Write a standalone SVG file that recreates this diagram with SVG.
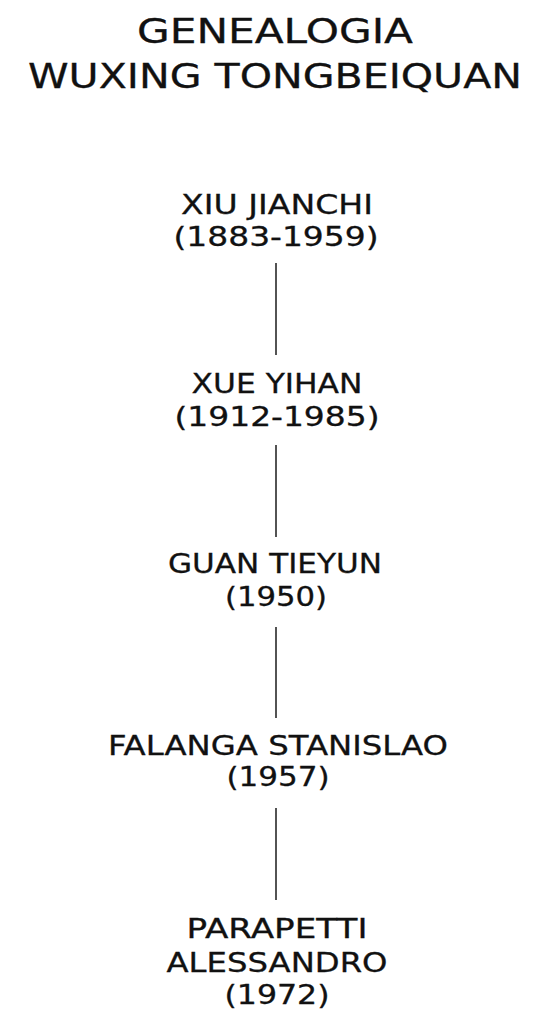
<svg xmlns="http://www.w3.org/2000/svg" width="549" height="1024" viewBox="0 0 549 1024">
<style>
text{font-family:"DejaVu Sans","Liberation Sans",sans-serif;fill:#111;stroke:#111;stroke-width:0.3;text-anchor:middle}
.t{font-size:34px}
.n{font-size:26px}
.c{stroke:#1a1a1a;stroke-width:1.5;fill:none}
</style>
<rect width="549" height="1024" fill="#fff"/>
<g id="title">
<text class="t" x="275" y="43" textLength="276" lengthAdjust="spacingAndGlyphs">GENEALOGIA</text>
<text class="t" x="275" y="88" textLength="494" lengthAdjust="spacingAndGlyphs">WUXING TONGBEIQUAN</text>
</g>
<g id="connectors">
<line class="c" x1="276" y1="263" x2="276" y2="355"/>
<line class="c" x1="276" y1="445" x2="276" y2="537"/>
<line class="c" x1="276" y1="627" x2="276" y2="718"/>
<line class="c" x1="276" y1="808" x2="276" y2="900"/>
</g>
<g id="n1">
<text class="n" x="277" y="214" textLength="192" lengthAdjust="spacingAndGlyphs">XIU JIANCHI</text>
<text class="n" x="276" y="246" textLength="205" lengthAdjust="spacingAndGlyphs">(1883-1959)</text>
</g>
<g id="n2">
<text class="n" x="277" y="393" textLength="171" lengthAdjust="spacingAndGlyphs">XUE YIHAN</text>
<text class="n" x="277" y="426" textLength="205" lengthAdjust="spacingAndGlyphs">(1912-1985)</text>
</g>
<g id="n3">
<text class="n" x="275" y="573" textLength="214" lengthAdjust="spacingAndGlyphs">GUAN TIEYUN</text>
<text class="n" x="276" y="606" textLength="102" lengthAdjust="spacingAndGlyphs">(1950)</text>
</g>
<g id="n4">
<text class="n" x="278" y="755" textLength="340" lengthAdjust="spacingAndGlyphs">FALANGA STANISLAO</text>
<text class="n" x="278" y="786" textLength="103" lengthAdjust="spacingAndGlyphs">(1957)</text>
</g>
<g id="n5">
<text class="n" x="277" y="938" textLength="181" lengthAdjust="spacingAndGlyphs">PARAPETTI</text>
<text class="n" x="277" y="972" textLength="221" lengthAdjust="spacingAndGlyphs">ALESSANDRO</text>
<text class="n" x="277" y="1004" textLength="105" lengthAdjust="spacingAndGlyphs">(1972)</text>
</g>
</svg>
